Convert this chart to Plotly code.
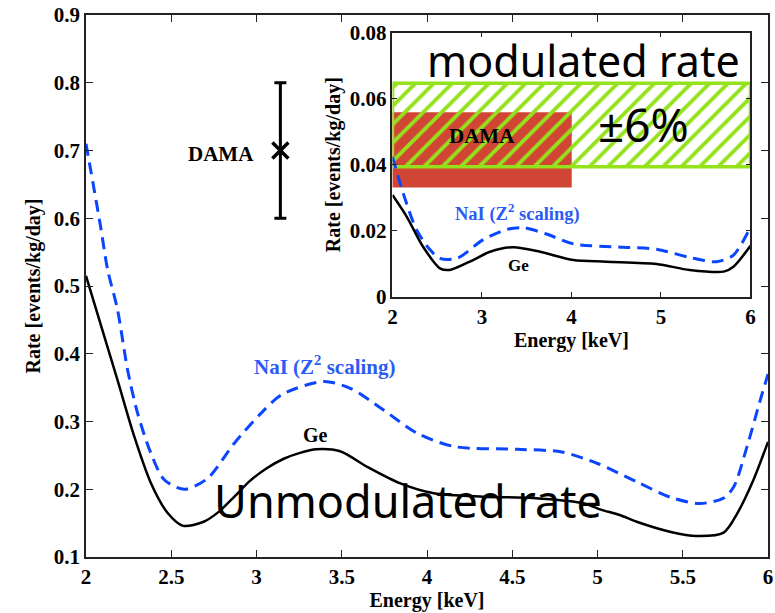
import plotly.graph_objects as go

# ---------------- data ----------------
# Main panel: unmodulated rate
ge_energy = [2.00, 2.185, 2.283, 2.381, 2.479, 2.57, 2.69, 2.78, 2.87, 2.96, 3.06, 3.16, 3.26,
             3.35, 3.49, 3.65, 3.84, 4.04, 4.33, 4.62, 4.92, 5.02, 5.13, 5.23, 5.43, 5.58,
             5.74, 5.82, 5.915, 6.00]
ge_rate = [0.515, 0.361, 0.278, 0.209, 0.165, 0.146, 0.152, 0.167, 0.189, 0.212, 0.231, 0.245,
           0.254, 0.259, 0.256, 0.233, 0.209, 0.194, 0.189, 0.187, 0.179, 0.170, 0.162, 0.152,
           0.137, 0.131, 0.136, 0.1645, 0.214, 0.270]

nai_energy = [2.00, 2.084, 2.127, 2.185, 2.244, 2.303, 2.381, 2.459, 2.577, 2.713, 2.87, 3.026,
              3.15, 3.394, 3.55, 3.745, 3.94, 4.16, 4.53, 4.79, 5.00, 5.23, 5.43, 5.60, 5.74,
              5.80, 5.877, 5.955, 6.00]
nai_rate = [0.710, 0.590, 0.524, 0.465, 0.376, 0.312, 0.253, 0.214, 0.200, 0.216, 0.268, 0.312,
            0.340, 0.359, 0.349, 0.317, 0.283, 0.263, 0.259, 0.255, 0.238, 0.211, 0.188, 0.179,
            0.187, 0.204, 0.263, 0.332, 0.370]

# DAMA point in main panel
dama_point_energy = [3.14]
dama_point_rate = [0.70]
dama_point_err = [0.10]

# Inset: modulated rate
ge_mod_energy = [2.00, 2.16, 2.34, 2.53, 2.64, 2.90, 3.09, 3.35, 3.65, 4.02, 4.39, 4.95, 5.32,
                 5.70, 5.81, 6.00]
ge_mod_rate = [0.0308, 0.0242, 0.0152, 0.0086, 0.0081, 0.0111, 0.0136, 0.0150, 0.0136, 0.0111,
               0.0106, 0.0099, 0.0081, 0.0076, 0.0091, 0.0154]

nai_mod_energy = [2.00, 2.12, 2.27, 2.42, 2.53, 2.72, 3.01, 3.28, 3.46, 3.72, 4.02, 4.58, 4.95,
                  5.32, 5.62, 5.81, 5.975, 6.00]
nai_mod_rate = [0.0424, 0.0313, 0.0202, 0.0142, 0.0116, 0.0116, 0.0172, 0.0204, 0.0209, 0.0190,
                0.0160, 0.0150, 0.0144, 0.0119, 0.0106, 0.0126, 0.0197, 0.0210]

# Bands in the inset
dama_band_energy = [2.0, 4.0]
dama_band_rate = [0.0332, 0.0558]
mod_band_energy = [2.0, 6.0]
mod_band_rate = [0.0394, 0.0647]

main_xticks = [2, 2.5, 3, 3.5, 4, 4.5, 5, 5.5, 6]
main_yticks = [0.1, 0.2, 0.3, 0.4, 0.5, 0.6, 0.7, 0.8, 0.9]
inset_xticks = [2, 3, 4, 5, 6]
inset_yticks = [0, 0.02, 0.04, 0.06, 0.08]

# ---------------- styles ----------------
BLUE = "#0a46ff"
BLUE_TXT = "#2d5cf5"
RED = "#d14535"
GREEN = "#94e21c"
SERIF = "Liberation Serif, Times New Roman, serif"
COMIC = "Comic Sans MS, Noto Sans, sans-serif"


def box(xs, ys):
    return [xs[0], xs[1], xs[1], xs[0], xs[0]], [ys[0], ys[0], ys[1], ys[1], ys[0]]


fig = go.Figure()

# main panel curves
fig.add_trace(go.Scatter(x=nai_energy, y=nai_rate, mode="lines",
                         line=dict(color=BLUE, width=3, dash="12px,7px", shape="spline", smoothing=0.8),
                         xaxis="x", yaxis="y", hoverinfo="skip"))
fig.add_trace(go.Scatter(x=ge_energy, y=ge_rate, mode="lines",
                         line=dict(color="black", width=2.5, shape="spline", smoothing=0.8),
                         xaxis="x", yaxis="y", hoverinfo="skip"))
fig.add_trace(go.Scatter(x=dama_point_energy, y=dama_point_rate, mode="markers",
                         marker=dict(symbol="x-thin", size=16, line=dict(color="black", width=3.5)),
                         error_y=dict(type="data", array=dama_point_err, color="black",
                                      thickness=3, width=6),
                         xaxis="x", yaxis="y", hoverinfo="skip"))

# inset bands
bx, by = box(dama_band_energy, dama_band_rate)
fig.add_trace(go.Scatter(x=bx, y=by, mode="lines", fill="toself", fillcolor=RED,
                         line=dict(color=RED, width=0.5), xaxis="x2", yaxis="y2", hoverinfo="skip"))
gx, gy = box(mod_band_energy, mod_band_rate)
fig.add_trace(go.Scatter(x=gx, y=gy, mode="lines", fill="toself", fillcolor="rgba(0,0,0,0)",
                         fillpattern=dict(shape="/", fgcolor=GREEN, fgopacity=1,
                                          bgcolor="rgba(0,0,0,0)",
                                          size=13, solidity=0.3, fillmode="overlay"),
                         line=dict(color=GREEN, width=3.5), xaxis="x2", yaxis="y2", hoverinfo="skip"))

# inset curves
fig.add_trace(go.Scatter(x=nai_mod_energy, y=nai_mod_rate, mode="lines",
                         line=dict(color=BLUE, width=3, dash="12px,7px", shape="spline", smoothing=0.8),
                         xaxis="x2", yaxis="y2", hoverinfo="skip"))
fig.add_trace(go.Scatter(x=ge_mod_energy, y=ge_mod_rate, mode="lines",
                         line=dict(color="black", width=2.5, shape="spline", smoothing=0.8),
                         xaxis="x2", yaxis="y2", hoverinfo="skip"))

axis_common = dict(showline=True, linecolor="#222", linewidth=1.5, mirror="ticks",
                   ticks="inside", ticklen=7, tickwidth=1.3, tickcolor="#222",
                   showgrid=False, zeroline=False, ticklabeloverflow="allow",
                   tickfont=dict(family=SERIF, size=21, color="black", weight="bold"))

title_font = dict(family=SERIF, size=20, color="black", weight="bold")

fig.update_layout(
    width=775, height=613,
    margin=dict(l=86, r=7, t=15, b=56, autoexpand=False),
    paper_bgcolor="white", plot_bgcolor="white",
    showlegend=False,
    xaxis=dict(range=[2, 6], tickvals=main_xticks, domain=[0, 1], anchor="y",
               title=dict(text="Energy [keV]", font=title_font, standoff=0),
               **axis_common),
    yaxis=dict(range=[0.1, 0.9], tickvals=main_yticks, domain=[0, 1], anchor="x",
               title=dict(text="Rate [events/kg/day]", font=title_font, standoff=8),
               **axis_common),
    xaxis2=dict(range=[2, 6], tickvals=inset_xticks, domain=[0.4494, 0.9743], anchor="y2",
                title=dict(text="Energy [keV]", font=title_font, standoff=0),
                **{**axis_common, "ticklen": 5}),
    yaxis2=dict(range=[0, 0.08], tickvals=inset_yticks, domain=[0.4803, 0.9673], anchor="x2",
                title=dict(text="Rate [events/kg/day]", font=title_font, standoff=4),
                **{**axis_common, "ticklen": 5}),
)

ann = []
# main panel text
ann.append(dict(x=2.79, y=0.695, xref="x", yref="y", text="DAMA", showarrow=False,
                font=dict(family=SERIF, size=21, color="black", weight="bold")))
ann.append(dict(x=3.40, y=0.383, xref="x", yref="y", text="NaI (Z<sup>2</sup> scaling)", showarrow=False,
                font=dict(family=SERIF, size=21, color=BLUE_TXT, weight="bold")))
ann.append(dict(x=3.345, y=0.280, xref="x", yref="y", text="Ge", showarrow=False,
                font=dict(family=SERIF, size=20, color="black", weight="bold")))
ann.append(dict(x=3.89, y=0.183, xref="x", yref="y", text="Unmodulated rate", showarrow=False,
                font=dict(family=COMIC, size=45, color="black")))
# inset text
ann.append(dict(x=4.13, y=0.0717, xref="x2", yref="y2", text="modulated rate", showarrow=False,
                font=dict(family=COMIC, size=43, color="black")))
ann.append(dict(x=4.80, y=0.0523, xref="x2", yref="y2", text="±6%", showarrow=False,
                font=dict(family=COMIC, size=46, color="black")))
ann.append(dict(x=3.00, y=0.0487, xref="x2", yref="y2", text="DAMA", showarrow=False,
                font=dict(family=SERIF, size=21, color="black", weight="bold")))
ann.append(dict(x=3.40, y=0.0256, xref="x2", yref="y2", text="NaI (Z<sup>2</sup> scaling)", showarrow=False,
                font=dict(family=SERIF, size=18.5, color=BLUE_TXT, weight="bold")))
ann.append(dict(x=3.405, y=0.0096, xref="x2", yref="y2", text="Ge", showarrow=False,
                font=dict(family=SERIF, size=17, color="black", weight="bold")))
fig.update_layout(annotations=ann)

# remove the default 8px page margin so the figure fills the window exactly
fig.write_html("out.html", config={"displayModeBar": False},
               post_script="document.body.style.margin='0';")
